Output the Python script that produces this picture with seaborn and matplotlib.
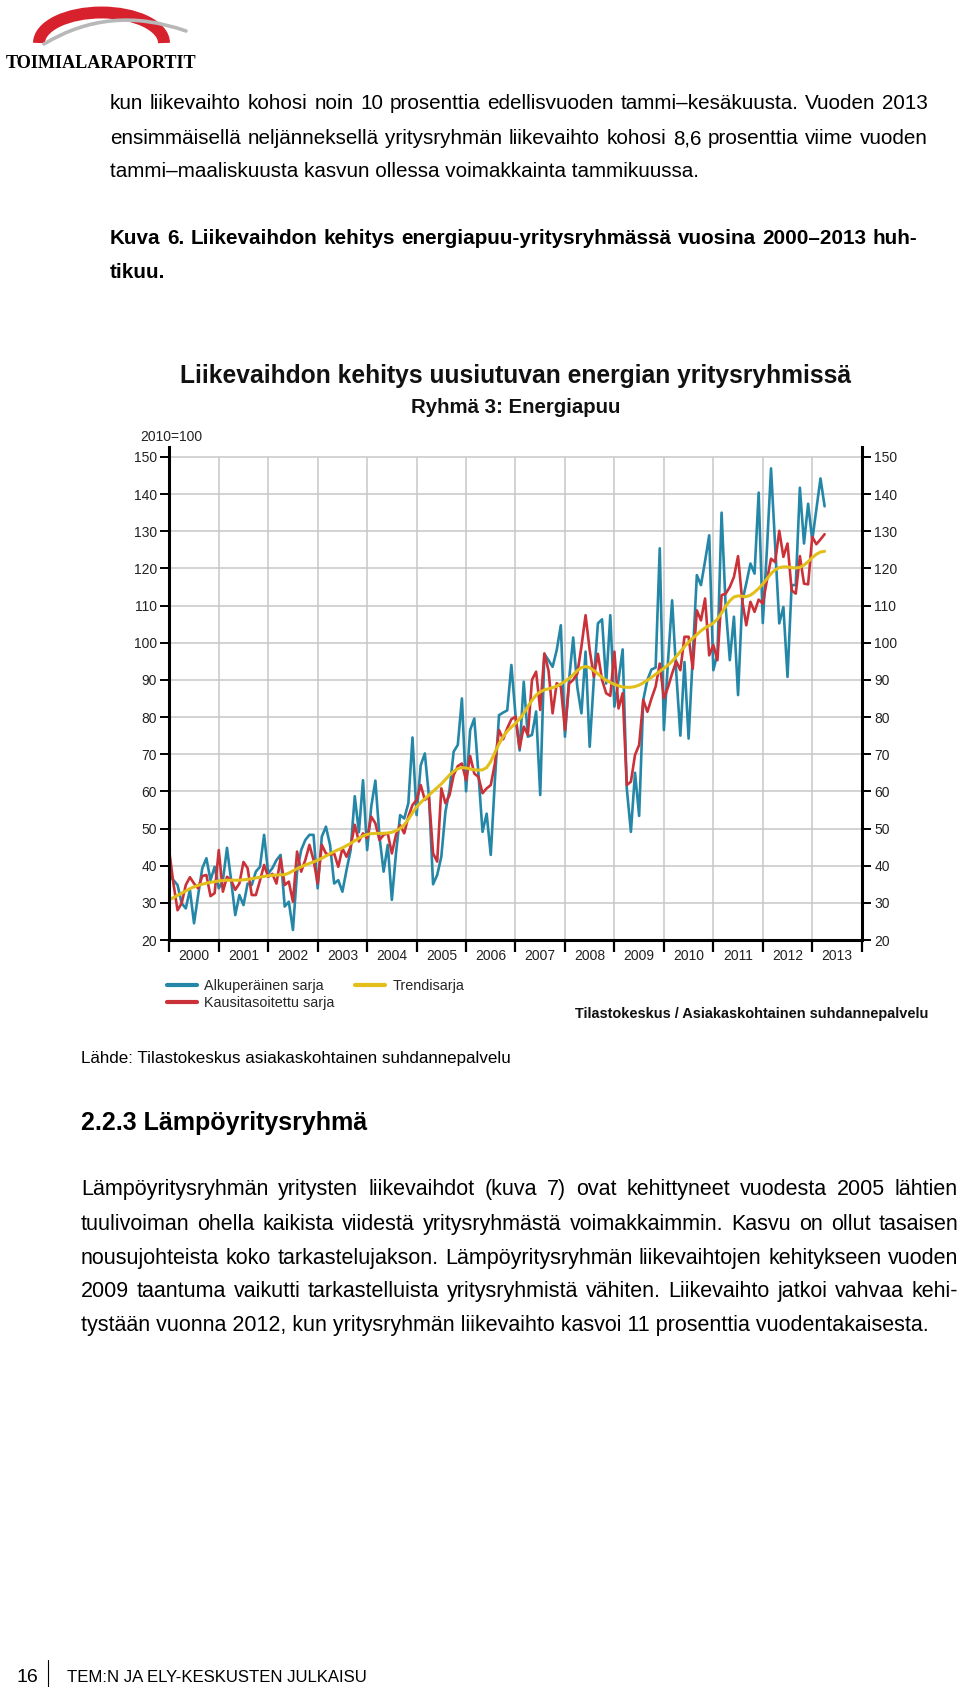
import numpy as np
import pandas as pd
import matplotlib
matplotlib.use("Agg")
import matplotlib.pyplot as plt
import seaborn as sns
from matplotlib import font_manager
from matplotlib.patches import Arc, PathPatch
from matplotlib.path import Path

# ---------------- data (2010 = 100, monthly Jan 2000 - Apr 2013) ----------------
start_month = "2000-01"
n_months = 160
series_names = ["Alkuperäinen sarja", "Kausitasoitettu sarja", "Trendisarja"]
year_labels = [str(y) for y in range(2000, 2014)]
y_ticks = list(range(20, 151, 10))

original = [
    37.5, 36.1, 34.8, 29.9, 28.5, 33.5, 24.5, 32.1, 39.3, 42.0, 36.1, 39.7,
    33.9, 36.0, 44.8, 36.1, 26.7, 32.1, 29.4, 35.2, 34.8, 38.4, 39.7, 48.3,
    37.9, 39.3, 41.5, 42.9, 29.0, 30.3, 22.7, 38.4, 44.2, 46.9, 48.3, 48.3,
    33.9, 47.8, 50.5, 45.6, 35.2, 36.1, 33.0, 38.8, 44.2, 58.7, 49.0, 63.0,
    44.2, 55.9, 62.9, 47.8, 38.4, 45.6, 30.8, 43.3, 53.6, 52.7, 56.8, 74.5,
    53.6, 67.0, 70.2, 58.6, 35.0, 37.5, 42.4, 54.5, 60.5, 70.7, 72.5, 85.0,
    60.0, 76.5, 79.6, 64.8, 49.1, 54.0, 42.9, 63.0, 80.5, 81.2, 81.8, 94.0,
    80.5, 71.0, 89.5, 74.7, 75.2, 81.5, 59.0, 97.0, 95.3, 93.5, 98.0, 104.7,
    74.7, 90.0, 101.4, 88.0, 81.0, 97.6, 72.0, 90.0, 105.2, 106.3, 89.0, 107.4,
    82.8, 90.0, 98.2, 60.8, 49.1, 65.0, 53.4, 84.6, 90.0, 92.8, 93.3, 125.4,
    76.5, 95.0, 111.4, 92.0, 75.0, 94.8, 74.2, 96.0, 118.2, 115.5, 122.0, 128.9,
    92.6, 97.1, 135.0, 109.6, 95.3, 107.0, 85.9, 111.0, 116.0, 121.3, 118.6, 140.4,
    105.3, 125.0, 146.9, 126.0, 105.2, 109.6, 90.8, 115.5, 115.5, 141.7, 126.7, 137.4,
    127.6, 136.0, 144.2, 136.7,
]
seasonally_adjusted = [
    43.8, 35.2, 28.0, 29.9, 34.8, 36.9, 35.2, 33.9, 37.2, 37.5, 31.8, 32.6,
    44.2, 33.0, 37.0, 36.1, 33.5, 35.2, 41.0, 39.3, 32.1, 32.1, 36.0, 40.2,
    37.0, 37.8, 35.2, 42.0, 34.8, 35.7, 30.3, 43.8, 38.4, 41.5, 45.6, 41.5,
    35.2, 45.6, 43.3, 42.9, 43.3, 39.7, 44.7, 42.4, 45.1, 51.0, 46.5, 48.7,
    47.4, 53.2, 51.4, 46.9, 48.3, 48.7, 43.3, 48.3, 50.9, 48.7, 53.2, 56.3,
    57.7, 61.7, 57.7, 58.6, 43.3, 41.1, 60.8, 56.8, 59.0, 64.4, 66.8, 67.5,
    63.0, 69.5, 64.8, 63.9, 59.5, 60.8, 61.7, 67.5, 76.5, 74.0, 77.0, 79.4,
    80.1, 71.6, 77.4, 75.2, 90.0, 92.2, 81.9, 97.1, 92.6, 81.0, 89.1, 88.2,
    76.5, 89.0, 90.0, 91.7, 99.0, 107.4, 98.0, 90.9, 97.0, 90.0, 86.4, 85.7,
    97.6, 82.3, 86.4, 61.7, 62.6, 69.8, 72.5, 84.6, 81.4, 85.0, 88.2, 94.4,
    85.0, 88.0, 91.7, 95.0, 92.6, 101.6, 101.6, 93.0, 108.7, 106.0, 111.9, 96.6,
    99.4, 95.3, 112.8, 113.2, 115.0, 117.7, 123.3, 111.4, 104.7, 111.0, 108.3, 111.6,
    110.5, 116.8, 122.6, 121.7, 130.1, 123.1, 126.7, 114.1, 113.2, 123.3, 115.9, 115.7,
    128.5, 126.5, 127.8, 129.2,
]
trend = [
    30.8, 31.4, 32.0, 32.6, 33.2, 33.8, 34.3, 34.7, 35.0, 35.3, 35.5, 35.7,
    35.9, 36.0, 36.1, 36.1, 36.1, 36.1, 36.2, 36.3, 36.5, 36.7, 36.9, 37.1,
    37.3, 37.4, 37.5, 37.5, 37.6, 38.0, 38.6, 39.2, 39.7, 40.2, 40.6, 41.0,
    41.5, 42.0, 42.6, 43.2, 43.8, 44.3, 44.8, 45.4, 46.0, 46.7, 47.4, 48.0,
    48.4, 48.6, 48.7, 48.7, 48.7, 48.8, 49.0, 49.4, 50.0, 51.0, 52.5, 54.2,
    55.8, 57.0, 58.0, 59.0, 60.0, 61.0, 62.0, 63.2, 64.4, 65.4, 66.1, 66.4,
    66.3, 66.0, 65.8, 65.7, 65.8, 66.4, 68.0, 70.5, 72.8, 74.7, 76.2, 77.3,
    78.3, 79.5, 81.0, 82.8, 84.5, 85.9, 86.8, 87.3, 87.6, 87.9, 88.3, 88.9,
    89.6, 90.4, 91.4, 92.5, 93.3, 93.6, 93.3, 92.5, 91.6, 90.7, 89.9, 89.3,
    88.8, 88.4, 88.1, 88.0, 88.0, 88.2, 88.6, 89.2, 89.9, 90.7, 91.5, 92.3,
    93.1, 94.0, 95.0, 96.3, 97.6, 99.0, 100.2, 101.2, 102.2, 103.2, 104.0, 104.6,
    105.3, 106.4, 108.0, 109.8, 111.3, 112.3, 112.6, 112.5, 112.4, 112.8, 113.6, 114.6,
    115.8, 117.2, 118.6, 119.6, 120.2, 120.4, 120.4, 120.2, 120.1, 120.3, 120.9, 121.8,
    122.9, 123.8, 124.4, 124.6,
]

# ---------------- style ----------------
BLUE, RED, YELLOW = "#2587a8", "#cb3138", "#e3bf1b"
GRID = "#c8c8c8"

sns.set_theme(style="white")
names = {f.name for f in font_manager.fontManager.ttflist}
SANS = "Liberation Sans" if "Liberation Sans" in names else "DejaVu Sans"
NARROW = "Liberation Sans Narrow" if "Liberation Sans Narrow" in names else SANS
SERIF = "Liberation Serif" if "Liberation Serif" in names else "DejaVu Serif"
plt.rcParams["font.family"] = [SANS, "DejaVu Sans"]

W, H = 960, 1687
fig = plt.figure(figsize=(W / 100, H / 100), dpi=100, facecolor="white")
bg = fig.add_axes([0, 0, 1, 1])
bg.set_xlim(0, W)
bg.set_ylim(H, 0)
bg.axis("off")
R = fig.canvas.get_renderer()


def width_of(t):
    return t.get_window_extent(renderer=R).width


def fit(x, y, s, width, size=12, **kw):
    t = bg.text(x, y, s, fontsize=size, **kw)
    t.set_fontsize(size * width / width_of(t))
    return t


def base(yc, size):
    # baseline for a line whose visual centre is yc
    return yc + 0.26 * size * 100 / 72


def justify(x0, x1, yc, s, size, **kw):
    words = s.split(" ")
    yb = base(yc, size)
    ts = [bg.text(0, yb, w, fontsize=size, ha="left", va="baseline", **kw) for w in words]
    ws = [width_of(t) for t in ts]
    gap = (x1 - x0 - sum(ws)) / (len(words) - 1)
    x = x0
    for t, w in zip(ts, ws):
        t.set_x(x)
        x += w + gap


def plain(x, yc, s, size, **kw):
    return bg.text(x, base(yc, size), s, fontsize=size, ha="left", va="baseline", **kw)


def natural_size(s, width, weight="normal", family=None):
    t = bg.text(0, 0, s, fontsize=10, weight=weight, family=family or SANS)
    w = width_of(t)
    t.remove()
    return 10 * width / w


# ---------------- logo ----------------
bg.add_patch(Arc((101.5, 43), 125, 61, theta1=180, theta2=360, lw=8.6,
                 color="#d7222d", capstyle="butt"))
swoosh = Path([(44, 44), (110, 4), (186, 31)], [Path.MOVETO, Path.CURVE3, Path.CURVE3])
bg.add_patch(PathPatch(swoosh, fill=False, lw=2.6, edgecolor="#b8b8b8", capstyle="round"))
fit(6, 68, "TOIMIALARAPORTIT", 191, family=SERIF, weight="bold", va="baseline",
    color="black")

# ---------------- top body text ----------------
top1 = "kun liikevaihto kohosi noin 10 prosenttia edellisvuoden tammi–kesäkuusta. Vuoden 2013"
top2 = "ensimmäisellä neljänneksellä yritysryhmän liikevaihto kohosi 8,6 prosenttia viime vuoden"
top_size = min(natural_size(top1, 812), natural_size(top2, 812))
justify(110, 928, 104, top1, top_size, color="black")
justify(110, 928, 139, top2, top_size, color="black")
plain(110, 172, "tammi–maaliskuusta kasvun ollessa voimakkainta tammikuussa.", top_size, color="black")
cap = "Kuva 6. Liikevaihdon kehitys energiapuu-yritysryhmässä vuosina 2000–2013 huh-"
cap_size = min(top_size, natural_size(cap, 800, weight="bold"))
justify(110, 917, 239, cap, cap_size, weight="bold", color="black")
plain(110, 273, "tikuu.", cap_size, weight="bold", color="black")

# ---------------- chart texts ----------------
fit(516, 376, "Liikevaihdon kehitys uusiutuvan energian yritysryhmissä", 668, weight="bold",
    ha="center", va="center", color="#111111")
fit(516, 407, "Ryhmä 3: Energiapuu", 209, weight="bold", ha="center", va="center", color="#111111")
fit(140, 437, "2010=100", 62, ha="left", va="center", color="#222222")

# ---------------- chart ----------------
dates = pd.date_range(start_month, periods=n_months, freq="MS")
df = pd.DataFrame({
    "t": dates.year + (dates.month - 1) / 12.0,
    "orig": original,
    "sa": seasonally_adjusted,
    "trend": trend,
})

ax = fig.add_axes([169.3 / W, 1 - 940 / H, 692.4 / W, (940 - 446.5) / H])
lines = []
for col, colr, lw in [("orig", BLUE, 1.9), ("sa", RED, 1.9), ("trend", YELLOW, 2.2)]:
    sns.lineplot(data=df, x="t", y=col, ax=ax, color=colr, lw=lw, legend=False)
    lines.append(ax.lines[-1])
if ax.get_legend() is not None:
    ax.get_legend().remove()

ax.set_xlim(2000, 2014)
ax.set_ylim(20, 152.8)
ax.set_xlabel("")
ax.set_ylabel("")
ax.set_yticks(y_ticks)
ax.set_yticklabels([str(v) for v in y_ticks])
ax.set_xticks(range(2000, 2015))
ax.set_xticklabels([])
ax.set_xticks(np.arange(2000.5, 2014, 1.0), minor=True)
ax.set_xticklabels(year_labels, minor=True)
ax.tick_params(axis="x", which="major", length=8.6, width=1.6, direction="out", color="black",
               bottom=True)
ax.tick_params(axis="x", which="minor", length=0, pad=6.5, labelsize=10, labelcolor="#222222",
               bottom=True)
ax.tick_params(axis="y", which="major", left=True, right=True, labelleft=True, labelright=True,
               length=6.5, width=1.4, direction="out", pad=2.5, labelsize=10,
               color="black", labelcolor="#222222")
for s in ["left", "right", "bottom"]:
    ax.spines[s].set_visible(True)
    ax.spines[s].set_color("black")
    ax.spines[s].set_linewidth(2.2)
ax.spines["top"].set_visible(False)
ax.set_axisbelow(True)
ax.yaxis.grid(True, color=GRID, lw=1.1)
ax.xaxis.grid(False)
ax.vlines(range(2001, 2014), 20, 150, color=GRID, lw=1.1, zorder=0.6)
ax.set_facecolor("white")

# ---------------- legend ----------------
leg_size = natural_size("Kausitasoitettu sarja", 130, family=NARROW)
fpx = leg_size * 100 / 72
fig.legend(lines, series_names, loc="upper left",
           bbox_to_anchor=(167 / W, 1 - (988 - 0.62 * fpx) / H), ncol=2, frameon=False,
           borderpad=0, borderaxespad=0, handlelength=30 / fpx, handletextpad=7 / fpx,
           columnspacing=21 / fpx, labelspacing=max(0.0, (20 - 1.16 * fpx) / fpx),
           prop={"family": NARROW, "size": leg_size})
for ln in fig.legends[0].get_lines():
    ln.set_linewidth(3.0)

fit(928, 1014, "Tilastokeskus / Asiakaskohtainen suhdannepalvelu", 350, family=NARROW,
    weight="bold", ha="right", va="center", color="#111111")

# ---------------- bottom text ----------------
fit(81, 1058, "Lähde: Tilastokeskus asiakaskohtainen suhdannepalvelu", 430, va="center",
    color="black")
fit(81, 1123, "2.2.3 Lämpöyritysryhmä", 285, weight="bold", va="center", color="black")

para = [
    "Lämpöyritysryhmän yritysten liikevaihdot (kuva 7) ovat kehittyneet vuodesta 2005 lähtien",
    "tuulivoiman ohella kaikista viidestä yritysryhmästä voimakkaimmin. Kasvu on ollut tasaisen",
    "nousujohteista koko tarkastelujakson. Lämpöyritysryhmän liikevaihtojen kehitykseen vuoden",
    "2009 taantuma vaikutti tarkastelluista yritysryhmistä vähiten. Liikevaihto jatkoi vahvaa kehi-",
    "tystään vuonna 2012, kun yritysryhmän liikevaihto kasvoi 11 prosenttia vuodentakaisesta.",
]
para_y = [1189, 1224, 1258, 1291, 1325]
p_size = natural_size(para[-1], 872)
p_size = min([p_size] + [natural_size(p, 880) for p in para[:-1]])
for s, y in zip(para[:-1], para_y[:-1]):
    justify(81, 958, y, s, p_size, color="black")
plain(81, para_y[-1], para[-1], p_size, color="black")

# ---------------- footer ----------------
bg.text(16, 1677, "16", fontsize=14, va="center", color="black")
bg.plot([48, 48], [1660, 1687], color="black", lw=0.8)
fit(67, 1678, "TEM:N JA ELY-KESKUSTEN JULKAISU", 299, va="center", color="black")

fig.savefig("out.png", dpi=100, facecolor="white")
